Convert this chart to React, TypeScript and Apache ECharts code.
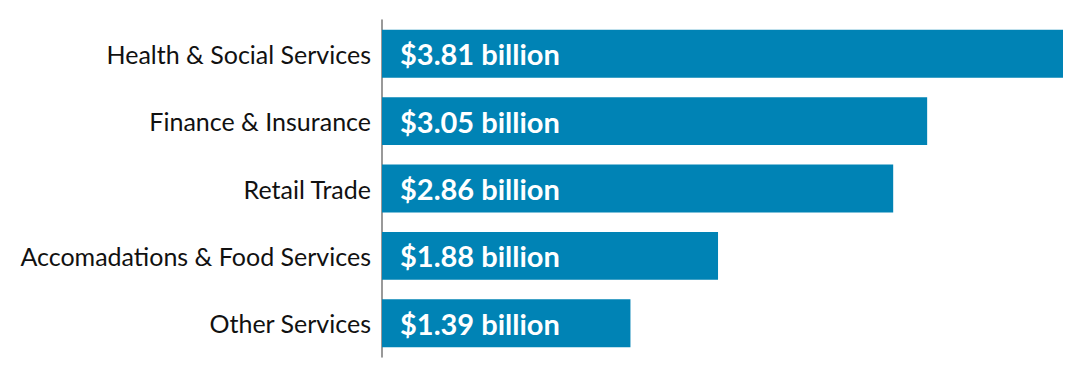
import React, { useEffect, useRef } from "react";
import * as echarts from "echarts";

const categories = [
  "Health & Social Services",
  "Finance & Insurance",
  "Retail Trade",
  "Accomadations & Food Services",
  "Other Services",
];
const values = [3.81, 3.05, 2.86, 1.88, 1.39];

export default function App() {
  const ref = useRef<HTMLDivElement>(null);
  useEffect(() => {
    const chart = echarts.init(ref.current!, null, { renderer: "svg" });
    chart.setOption({
      animation: false,
      grid: { left: 382, right: 27, top: 20, bottom: 15, containLabel: false },
      xAxis: {
        type: "value",
        min: 0,
        max: 3.81,
        show: false,
      },
      yAxis: {
        type: "category",
        data: categories,
        inverse: true,
        axisLine: { show: true, lineStyle: { color: "#777777", width: 1.5 } },
        axisTick: { show: false },
        axisLabel: {
          color: "#111111",
          fontFamily: "Lato",
          fontSize: 25,
          margin: 11,
          padding: [4, 0, 0, 0],
        },
      },
      series: [
        {
          type: "bar",
          data: values,
          barCategoryGap: "29%",
          itemStyle: { color: "#0083B5" },
          label: {
            show: true,
            position: "insideLeft",
            distance: 18,
            color: "#ffffff",
            fontFamily: "Lato",
            fontWeight: "bold",
            fontSize: 29,
            padding: [3, 0, 0, 0],
            formatter: (p: any) => `$${p.value.toFixed(2)} billion`,
          },
        },
      ],
    });
    return () => chart.dispose();
  }, []);
  return (
    <div
      ref={ref}
      style={{ width: 1090, height: 372, position: "absolute", left: 0, top: 0 }}
    />
  );
}
